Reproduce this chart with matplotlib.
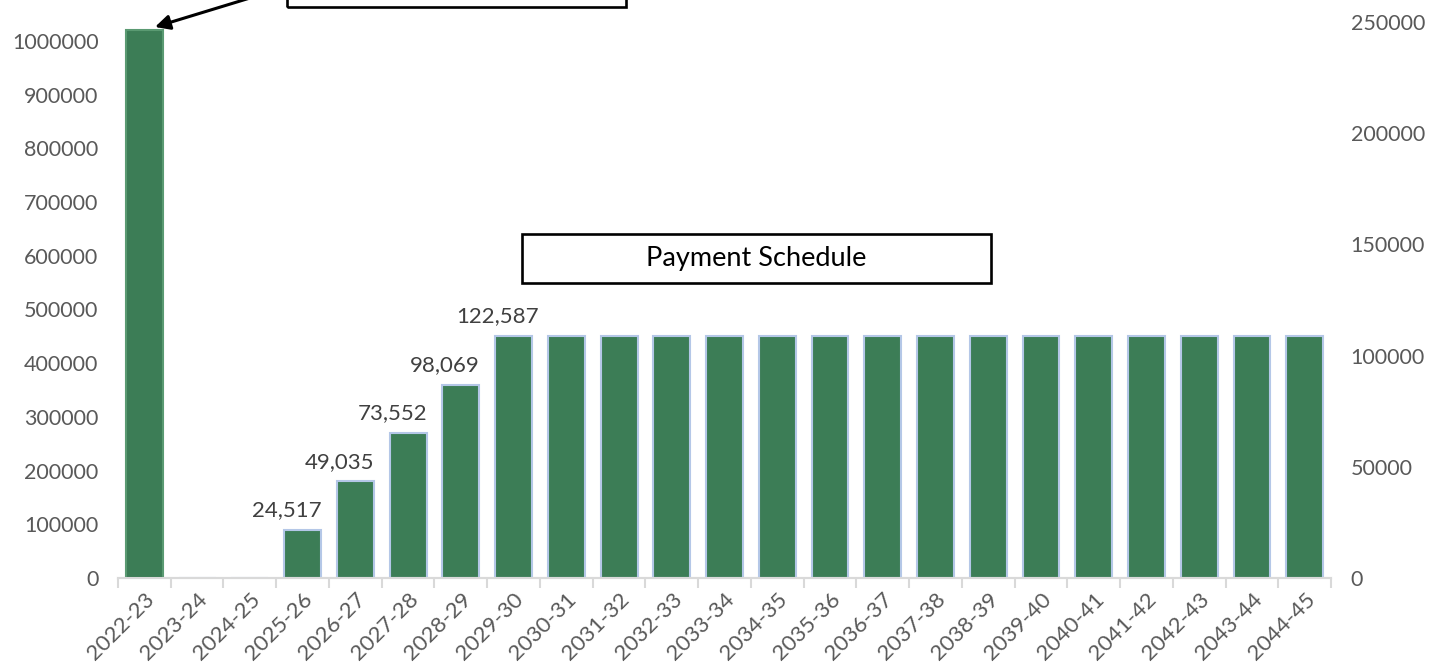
import matplotlib
matplotlib.use("Agg")
import matplotlib.pyplot as plt
from matplotlib.patches import Rectangle
import numpy as np

plt.rcParams["font.family"] = ["Lato", "DejaVu Sans"]

# data
years = ["2022-23", "2023-24", "2024-25", "2025-26", "2026-27", "2027-28",
         "2028-29", "2029-30", "2030-31", "2031-32", "2032-33", "2033-34",
         "2034-35", "2035-36", "2036-37", "2037-38", "2038-39", "2039-40",
         "2040-41", "2041-42", "2042-43", "2043-44", "2044-45"]
amounts = [1020000, 0, 0, 90000, 180000, 270000, 360000] + [450000] * 16
label_idx = [3, 4, 5, 6, 7]
label_text = ["24,517", "49,035", "73,552", "98,069", "122,587"]

GREEN = "#3C7D56"
EDGE = "#B4C7E7"
GREY = "#595959"

fig = plt.figure(figsize=(14.39, 6.68), dpi=100)
ax = fig.add_axes([0.082, 0.1347, 0.843, 0.8323])
ax2 = ax.twinx()

x = np.arange(len(years))
edges = ["#5a9a72"] + [EDGE] * (len(years) - 1)
ax.bar(x, amounts, width=0.7, color=GREEN, edgecolor=edges, linewidth=1.5, zorder=3)
ax.plot([x[0] - 0.33, x[0] + 0.33], [0, 0], color="#222222", lw=1.5, zorder=4)

ax.set_xlim(-0.5, len(years) - 0.5)
ax.set_ylim(0, 1035000)
ax2.set_ylim(0, 250000)

ax.set_yticks(np.arange(0, 1000001, 100000))
ax2.set_yticks(np.arange(0, 250001, 50000))
ax.set_yticklabels([f"{v}" for v in range(0, 1000001, 100000)])
ax2.set_yticklabels([f"{v}" for v in range(0, 250001, 50000)])

for a in (ax, ax2):
    for s in ("left", "right", "top"):
        a.spines[s].set_visible(False)
    a.spines["bottom"].set_color("#D9D9D9")
    a.spines["bottom"].set_linewidth(1.5)
    a.tick_params(axis="y", length=0, labelsize=15.5, labelcolor=GREY, pad=14)

ax.set_xticks(x)
ax.set_xticklabels(years, rotation=45, ha="right", rotation_mode="anchor",
                   fontsize=16, color=GREY)
ax.tick_params(axis="x", length=0, pad=8)
ax.set_xticks(np.arange(-0.5, len(years)), minor=True)
ax.tick_params(axis="x", which="minor", length=7, width=1.5, color="#D9D9D9")

for i, t in zip(label_idx, label_text):
    ax.annotate(t, (x[i] - 0.3, amounts[i]), xytext=(0, 7),
                textcoords="offset points", ha="center", va="bottom",
                fontsize=16, color="#404040")

# text boxes
fig.patches.append(Rectangle((0.3628, 0.5763), 0.3259, 0.0734, transform=fig.transFigure,
                             fill=False, edgecolor="black", linewidth=1.9, zorder=5))
fig.text(0.5257, 0.613, "Payment Schedule", ha="center", va="center",
         fontsize=19.5, color="black")
fig.patches.append(Rectangle((0.1995, 0.9895), 0.2356, 0.1, transform=fig.transFigure,
                             fill=False, edgecolor="black", linewidth=1.9, zorder=5,
                             clip_on=False))
ax.annotate("", xy=(0.1077, 0.9596), xycoords="figure fraction",
            xytext=(0.192, 1.015), textcoords="figure fraction",
            arrowprops=dict(arrowstyle="-|>", color="black", lw=2.2,
                            mutation_scale=22, shrinkA=0, shrinkB=0),
            annotation_clip=False)

fig.savefig("out.png", dpi=100)
